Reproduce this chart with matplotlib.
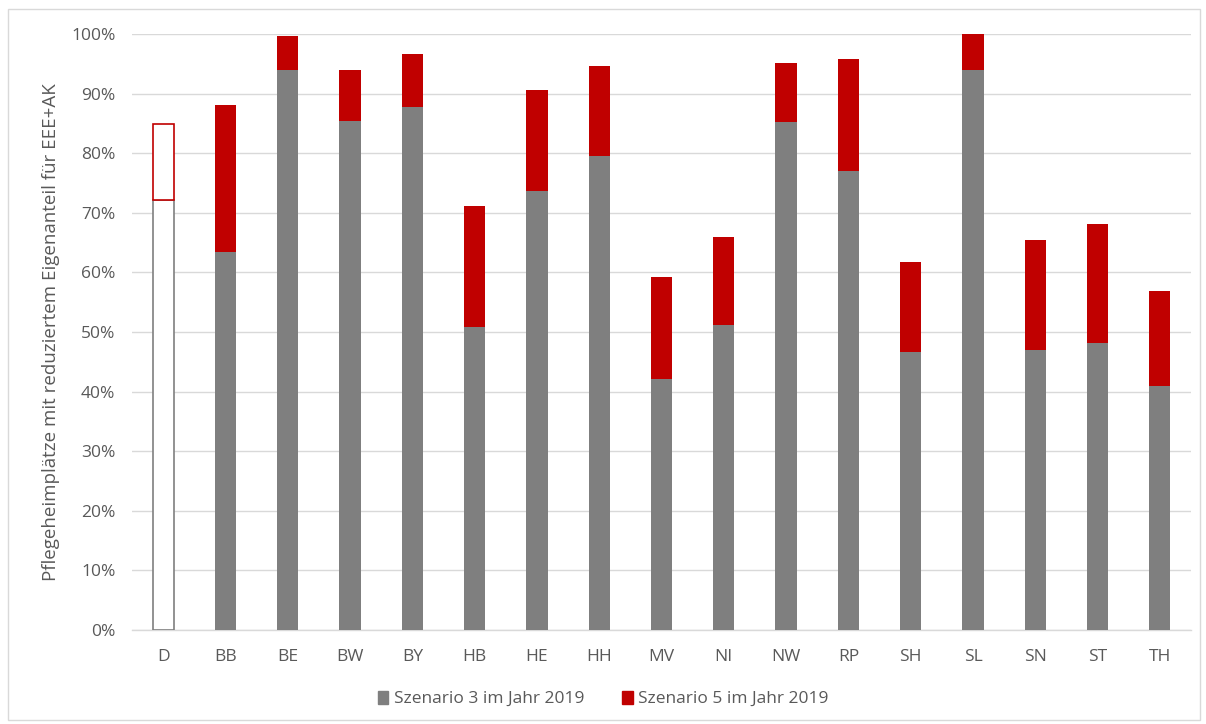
import numpy as np
import matplotlib.pyplot as plt
from matplotlib.patches import Rectangle

# Anteil der Pflegeheimplaetze je Bundesland (Szenario 3 / Szenario 5)
laender = ['D', 'BB', 'BE', 'BW', 'BY', 'HB', 'HE', 'HH', 'MV', 'NI',
           'NW', 'RP', 'SH', 'SL', 'SN', 'ST', 'TH']
szenario3 = [72.1, 63.4, 94.0, 85.4, 87.8, 50.8, 73.7, 79.5, 42.1, 51.2,
             85.2, 77.0, 46.6, 94.0, 47.0, 48.2, 40.9]
szenario5 = [84.9, 88.1, 99.7, 94.0, 96.6, 71.1, 90.6, 94.6, 59.2, 65.9,
             95.1, 95.8, 61.7, 100.0, 65.4, 68.1, 56.9]

grau = '#7f7f7f'
rot = '#c00000'
textfarbe = '#595959'

plt.rcParams['font.family'] = ['Open Sans', 'DejaVu Sans']

fig = plt.figure(figsize=(12.06, 7.24), dpi=100)
ax = fig.add_axes([132 / 1206, 1 - 630 / 724, 1059 / 1206, 596 / 724])

x = np.arange(len(laender))
s3 = np.array(szenario3)
s5 = np.array(szenario5)
diff = s5 - s3
breite = 0.34
n = len(laender)

# Deutschland als ungefuellter Balken
ax.bar(x, s3, breite, color=['white'] + [grau] * (n - 1), edgecolor=grau,
       linewidth=[1.2] + [0] * (n - 1), zorder=3)
ax.bar(x, diff, breite, bottom=s3, color=['white'] + [rot] * (n - 1),
       edgecolor=rot, linewidth=[1.2] + [0] * (n - 1), zorder=3)

ax.set_xlim(-0.5, n - 0.5)
ax.set_ylim(0, 100)
ax.set_yticks(np.arange(0, 101, 10))
ax.set_yticklabels([f'{v}%' for v in range(0, 101, 10)])
ax.set_xticks(x)
ax.set_xticklabels(laender)
ax.yaxis.grid(True, color='#d9d9d9', linewidth=1, zorder=0)
ax.set_axisbelow(True)
for seite in ['top', 'right', 'left']:
    ax.spines[seite].set_visible(False)
ax.spines['bottom'].set_color('#d9d9d9')
ax.spines['bottom'].set_linewidth(1)
ax.tick_params(axis='both', length=0, labelsize=12.5, colors=textfarbe)
ax.tick_params(axis='x', pad=14)
ax.tick_params(axis='y', pad=12)
ax.set_ylabel('Pflegeheimplätze mit reduziertem Eigenanteil für EEE+AK',
              fontsize=13.5, color=textfarbe, labelpad=8)

# Legende
h3 = Rectangle((0, 0), 1, 1, color=grau)
h5 = Rectangle((0, 0), 1, 1, color=rot)
fig.legend([h3, h5], ['Szenario 3 im Jahr 2019', 'Szenario 5 im Jahr 2019'],
           loc='center', bbox_to_anchor=(0.5, 1 - 699 / 724), ncol=2, frameon=False,
           fontsize=12.5, labelcolor=textfarbe, handlelength=0.6, handleheight=0.8,
           handletextpad=0.3, columnspacing=2.2)

# Rahmen um die gesamte Grafik
fig.patches.append(Rectangle((8 / 1206, 4 / 724), 1192 / 1206, 711 / 724,
                             transform=fig.transFigure, fill=False,
                             edgecolor='#d9d9d9', linewidth=1))

fig.savefig('out.png', dpi=100)
